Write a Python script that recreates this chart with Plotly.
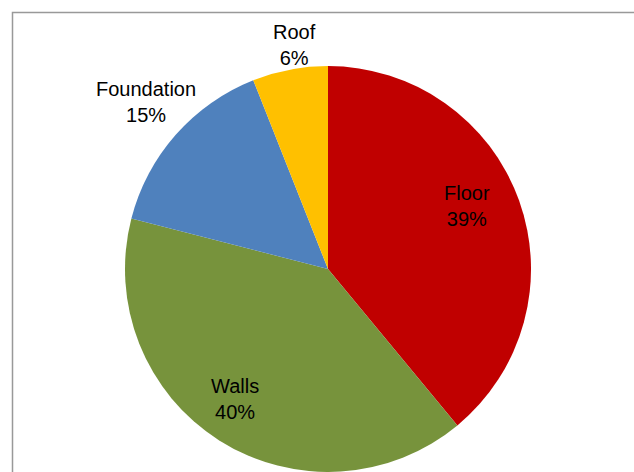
import plotly.graph_objects as go

labels = ["Floor", "Walls", "Foundation", "Roof"]
values = [39, 40, 15, 6]
colors = ["#C00000", "#77933C", "#4F81BD", "#FFC000"]

# label anchor points (pixels from top-left of the 634x472 page)
label_pos = [(467, 206), (235, 399), (146, 102), (294, 45)]

W, H = 634, 472
cx, cy, r = 328, 269, 203

fig = go.Figure(
    go.Pie(
        labels=labels,
        values=values,
        sort=False,
        direction="clockwise",
        rotation=0,
        marker=dict(colors=colors, line=dict(width=0)),
        textinfo="none",
        hoverinfo="label+percent",
        domain=dict(x=[(cx - r) / W, (cx + r) / W], y=[(H - cy - r) / H, (H - cy + r) / H]),
    )
)

font = dict(family="Liberation Sans Narrow, Arial Narrow, Liberation Sans, Arial", size=20, color="#000000")
for lab, val, (px, py) in zip(labels, values, label_pos):
    fig.add_annotation(
        x=px / W, y=1 - py / H, xref="paper", yref="paper",
        text=f"{lab}<br>{val}%", showarrow=False, font=font,
        xanchor="center", yanchor="middle", align="center",
    )

# chart frame
fig.add_shape(
    type="rect", xref="paper", yref="paper",
    x0=12.5 / W, x1=1.05, y0=-0.05, y1=1 - 12.5 / H,
    line=dict(color="#999999", width=1.5), fillcolor="rgba(0,0,0,0)", layer="below",
)

fig.update_layout(
    width=W, height=H,
    margin=dict(l=0, r=0, t=0, b=0),
    paper_bgcolor="white", plot_bgcolor="white",
    showlegend=False,
)

fig.write_html("out.html")
